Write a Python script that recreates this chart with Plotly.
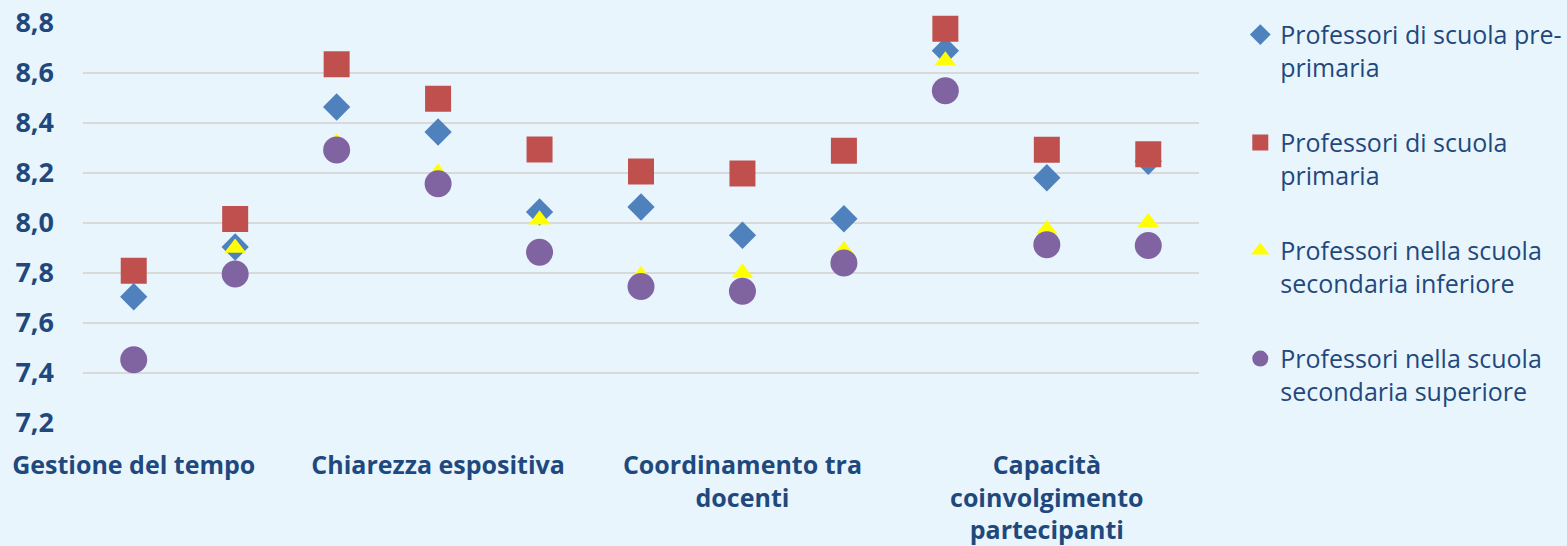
import plotly.graph_objects as go

# valori (11 punti, etichetta ogni 3)
labels = ["Gestione del tempo", "Chiarezza espositiva", "Coordinamento tra<br>docenti",
          "Capacità<br>coinvolgimento<br>partecipanti"]
label_step = 3

pre_primaria = [7.705, 7.904, 8.464, 8.364, 8.044, 8.064, 7.951, 8.017, 8.689, 8.181, 8.247]
primaria = [7.809, 8.016, 8.635, 8.497, 8.294, 8.206, 8.198, 8.289, 8.777, 8.293, 8.275]
sec_inferiore = [7.44, 7.90, 8.32, 8.20, 8.013, 7.79, 7.80, 7.89, 8.649, 7.974, 8.002]
sec_superiore = [7.453, 7.796, 8.292, 8.157, 7.883, 7.746, 7.727, 7.84, 8.529, 7.913, 7.91]

series_names = ["Professori di scuola pre-<br>primaria", "Professori di scuola<br>primaria",
                "Professori nella scuola<br>secondaria inferiore",
                "Professori nella scuola<br>secondaria superiore"]

x = list(range(len(pre_primaria)))
text_col = "#1F497D"

fig = go.Figure()
styles = [("diamond", "#4F81BD", 21), ("square", "#C0504D", 26),
          ("triangle-up", "#FFFF00", 19), ("circle", "#8064A2", 27)]
for i, (name, vals, (sym, col, size)) in enumerate(zip(series_names,
                                        [pre_primaria, primaria, sec_inferiore, sec_superiore],
                                        styles)):
    fig.add_trace(go.Scatter(x=x, y=vals, mode="markers", name=name, cliponaxis=False,
                             legendgroup="g%d" % i,
                             marker=dict(symbol=sym, color=col, size=size, line=dict(width=0))))

fig.update_layout(
    width=1567, height=546,
    margin=dict(l=83, r=368, t=23, b=123, autoexpand=False),
    paper_bgcolor="#E9F5FD", plot_bgcolor="#E9F5FD",
    separators=",.",
    font=dict(family="Open Sans", color=text_col),
    showlegend=True,
    legend=dict(x=1.037, xanchor="left", y=1.028, yanchor="top", valign="top",
                font=dict(size=25, color=text_col), tracegroupgap=40, maxheight=530,
                bgcolor="rgba(0,0,0,0)", itemwidth=30),
)
fig.update_xaxes(
    range=[-0.5, len(x) - 0.5], showgrid=False, zeroline=False, showline=False,
    tickvals=x[::label_step], ticktext=["<b>%s</b>" % t for t in labels],
    tickfont=dict(size=25, color=text_col), ticklabelstandoff=25,
)
fig.update_yaxes(
    range=[7.2, 8.8], dtick=0.2, tickformat=".1f", showgrid=True, gridcolor="#D9D9D9",
    gridwidth=2, zeroline=False, showline=False,
    tickfont=dict(size=27, color=text_col, weight="bold"), ticklabelstandoff=28,
)

fig.write_html("out.html", config={"displayModeBar": False},
               post_script="document.body.style.margin='0';")
